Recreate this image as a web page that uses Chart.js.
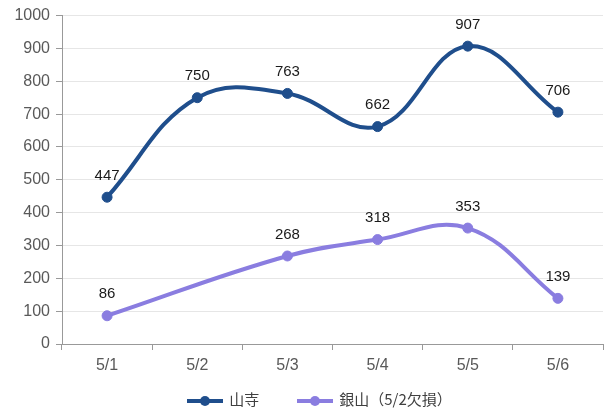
<!DOCTYPE html>
<html>
<head>
<meta charset="utf-8">
<script src="https://cdn.jsdelivr.net/npm/chart.js@4"></script>
<style>
  body { margin: 0; background: #fff; }
  #wrap { position: relative; width: 607px; height: 412px; }
  #legend { position: absolute; left: 16px; top: 386px; width: 607px; text-align: center;
    font-family: "Noto Sans CJK TC", "Noto Sans", sans-serif; font-size: 15px; color: #404040; }
  .item { display: inline-block; margin: 0 19px; vertical-align: middle; }
  .sw { display: inline-block; position: relative; width: 36px; height: 12px; vertical-align: middle; margin-right: 6px; }
  .sw .ln { position: absolute; left: 0; right: 0; top: 4px; height: 4px; }
  .sw .dt { position: absolute; left: 13px; top: 1px; width: 10px; height: 10px; border-radius: 50%; }
</style>
</head>
<body>
<div id="wrap">
  <canvas id="chart" width="607" height="412"></canvas>
  <div id="legend"></div>
</div>
<script>
const labels = ['5/1', '5/2', '5/3', '5/4', '5/5', '5/6'];
const yamadera = [447, 750, 763, 662, 907, 706];
const ginzan = [86, null, 268, 318, 353, 139];
const seriesNames = ['山寺', '銀山（5/2欠損）'];
const colors = ['#1f4e8c', '#8a7de0'];

const valueLabels = {
    id: 'valueLabels',
    afterDatasetsDraw(chart) {
        const ctx = chart.ctx;
        ctx.save();
        ctx.font = '15px "Liberation Sans", Arial, sans-serif';
        ctx.fillStyle = '#1a1a1a';
        ctx.textAlign = 'center';
        ctx.textBaseline = 'bottom';
        chart.data.datasets.forEach((ds, i) => {
            chart.getDatasetMeta(i).data.forEach((pt, j) => {
                if (ds.data[j] == null) return;
                ctx.fillText(ds.data[j], pt.x, pt.y - 14);
            });
        });
        ctx.restore();
    }
};

const tickFont = { size: 16, family: '"Liberation Sans", Arial, sans-serif' };

new Chart(document.getElementById('chart'), {
    type: 'line',
    data: {
        labels: labels,
        datasets: [
            { label: seriesNames[0], data: yamadera, borderColor: colors[0], backgroundColor: colors[0] },
            { label: seriesNames[1], data: ginzan, borderColor: colors[1], backgroundColor: colors[1], spanGaps: true }
        ].map(d => Object.assign(d, { borderWidth: 4, tension: 0.4, pointRadius: 5, pointHoverRadius: 5, pointBorderWidth: 1 }))
    },
    options: {
        responsive: false,
        animation: false,
        layout: { autoPadding: false, padding: { top: 12, right: 4, bottom: 38, left: 0 } },
        plugins: { legend: { display: false }, tooltip: { enabled: false } },
        scales: {
            x: {
                offset: true,
                grid: { offset: true, drawOnChartArea: false, tickColor: '#999', tickLength: 6 },
                border: { color: '#999', width: 1 },
                ticks: { color: '#595959', font: tickFont, padding: 6 },
                afterFit(s) { s.height = 30; }
            },
            y: {
                min: 0, max: 1000,
                grid: { color: '#e6e6e6', tickColor: '#999', tickLength: 6 },
                border: { color: '#999', width: 1 },
                ticks: { stepSize: 100, color: '#595959', font: tickFont, padding: 6, callback: v => String(v) },
                afterFit(s) { s.width = 62; }
            }
        }
    },
    plugins: [valueLabels]
});

document.getElementById('legend').innerHTML = seriesNames.map((n, i) =>
    `<span class="item"><span class="sw"><span class="ln" style="background:${colors[i]}"></span><span class="dt" style="background:${colors[i]}"></span></span>${n}</span>`
).join('');
</script>
</body>
</html>
